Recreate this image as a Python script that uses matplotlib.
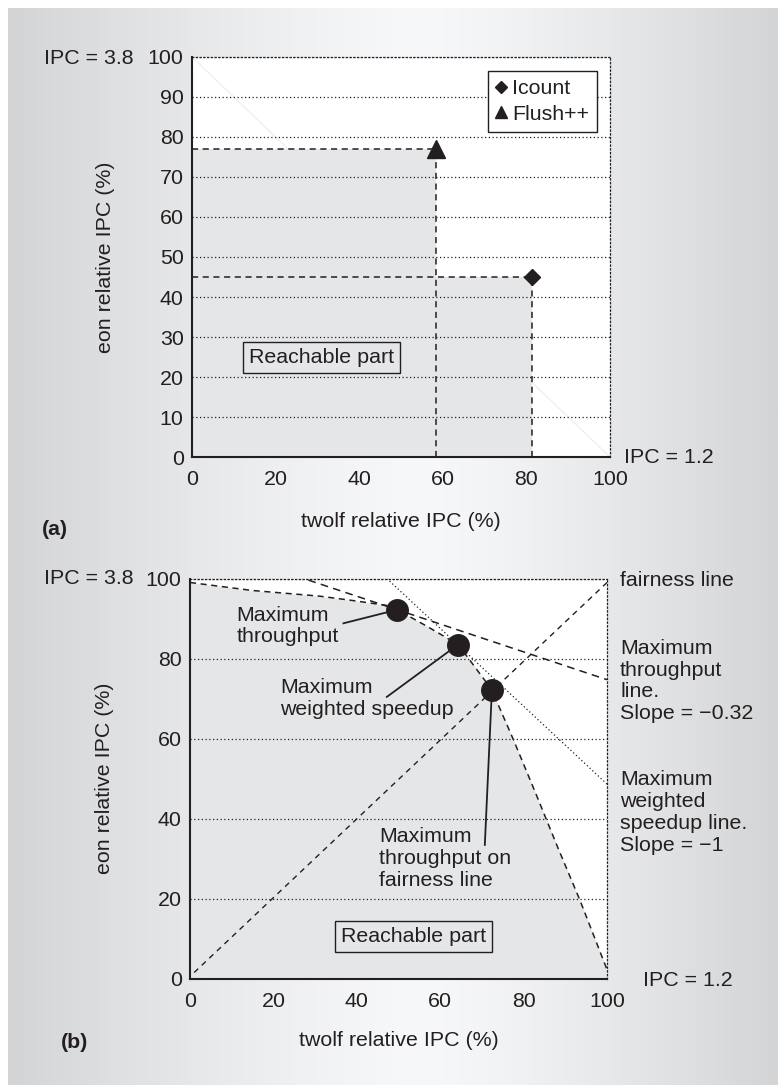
import numpy as np
import matplotlib
matplotlib.use('Agg')
import matplotlib.pyplot as plt
from matplotlib.lines import Line2D

# ---------------- data ----------------
# panel (a): measured operating points (twolf %, eon %)
policies = ['Icount', 'Flush++']
policy_x = [81.4, 58.4]
policy_y = [45.0, 76.9]
policy_markers = ['D', '^']
ticks_a_x = [0, 20, 40, 60, 80, 100]
ticks_a_y = list(range(0, 101, 10))

# panel (b): boundary of the reachable part
curve_x = [0, 15, 31, 39, 47, 49.7, 56.4, 64.3, 72.3, 77.6, 82.9, 88.1, 93.5, 99.9, 100]
curve_y = [99.0, 97.0, 95.6, 94.5, 93.3, 92.2, 88.3, 83.5, 72.3, 59.6, 46.3, 33.0, 19.6, 2.5, 0]
fair_x = [1, 100]
fair_y = [1.5, 99]
tput_line_x = [28.4, 100]
tput_line_y = [99.6, 74.7]
ws_line_x = [47.2, 100]
ws_line_y = [100, 48.6]
dot_x = [49.7, 64.3, 72.4]
dot_y = [92.2, 83.5, 72.2]
dot_labels = ['Maximum\nthroughput', 'Maximum\nweighted speedup',
              'Maximum\nthroughput on\nfairness line']
ticks_b = [0, 20, 40, 60, 80, 100]

INK = '#231f20'
FILL = '#e5e6e8'
FS = 15.4

plt.rcParams['font.family'] = ['Liberation Sans', 'DejaVu Sans']
plt.rcParams['font.size'] = FS
plt.rcParams['text.color'] = INK
plt.rcParams['axes.labelcolor'] = INK
plt.rcParams['xtick.color'] = INK
plt.rcParams['ytick.color'] = INK

W, H = 778, 1089
fig = plt.figure(figsize=(W / 100, H / 100), dpi=100)
fig.patch.set_facecolor('white')


def fx(px):
    return px / W


def fy(py):
    return 1 - py / H


# ---------------- gradient background ----------------
bg = fig.add_axes([fx(8), fy(1085), fx(778) - fx(8), fy(8) - fy(1085)])
xs = np.linspace(0, 1, 600)
xc = (420 - 8) / 770
d = np.abs(xs - xc) / np.where(xs < xc, xc, 1 - xc)
v = 248 - (248 - 212) * d ** 1.3
img = np.tile(v, (4, 1))
rgb = np.stack([img - 1, img, img + 1.5], axis=-1) / 255
bg.imshow(np.clip(rgb, 0, 1), aspect='auto', extent=[0, 1, 0, 1])
bg.axis('off')


def style_axes(ax, xt, yt):
    ax.set_facecolor('white')
    ax.set_xlim(0, 100)
    ax.set_ylim(0, 100)
    ax.set_xticks(xt)
    ax.set_yticks(yt)
    ax.tick_params(length=0, labelsize=FS)
    ax.tick_params(axis='x', pad=9.5)
    ax.tick_params(axis='y', pad=6)
    for s in ['left', 'bottom']:
        ax.spines[s].set_linewidth(1.5)
        ax.spines[s].set_color(INK)
    for s in ['top', 'right']:
        ax.spines[s].set_linestyle((0, (1, 2)))
        ax.spines[s].set_linewidth(0.9)
        ax.spines[s].set_color(INK)
    ax.yaxis.grid(True, linestyle=(0, (1, 2)), linewidth=0.9, color=INK)
    ax.set_axisbelow(False)


# ---------------- panel (a) ----------------
axA = fig.add_axes([fx(192), fy(457), fx(610) - fx(192), fy(57) - fy(457)])
style_axes(axA, ticks_a_x, ticks_a_y)
for gl in axA.yaxis.get_gridlines():
    gl.set_zorder(1.5)

# faint diagonal
axA.plot([0, 100], [100, 0], color='#ececec', lw=0.8, zorder=0.5)

# reachable (dominated) region: union of rectangles below each point
order = np.argsort(policy_x)
sx, sy = [], []
prev = 0
for i in order:
    ymax = max(policy_y[j] for j in order if policy_x[j] >= policy_x[i])
    sx += [prev, policy_x[i]]
    sy += [ymax, ymax]
    prev = policy_x[i]
axA.fill_between(sx, sy, 0, color=FILL, lw=0, zorder=1)

for px_, py_, m in zip(policy_x, policy_y, policy_markers):
    axA.plot([0, px_], [py_, py_], color=INK, lw=1.1, dashes=(4, 3), zorder=2)
    axA.plot([px_, px_], [0, py_], color=INK, lw=1.1, dashes=(4, 3), zorder=2)
    ms = 8.5 if m == 'D' else 13
    axA.plot([px_], [py_], marker=m, ms=ms, color=INK, ls='none', zorder=4)

handles = [Line2D([], [], marker=m, ls='none', color=INK, ms=(6 if m == 'D' else 8))
           for m in policy_markers]
leg = axA.legend(handles, policies, loc='upper right', bbox_to_anchor=(0.969, 0.965),
                 fancybox=False, framealpha=1, edgecolor=INK, fontsize=FS,
                 handlelength=0.45, handletextpad=0.3, borderpad=0.38,
                 labelspacing=0.3, borderaxespad=0)
leg.get_frame().set_linewidth(1.0)
leg.set_zorder(5)

axA.text(31.0, 24.9, 'Reachable part', ha='center', va='center', fontsize=FS, zorder=5,
         bbox=dict(boxstyle='square,pad=0.28', fc=FILL, ec=INK, lw=1.0))

axA.set_ylabel('eon relative IPC (%)', fontsize=FS)
axA.yaxis.set_label_coords((115 - 192) / 418, 0.5)
axA.set_xlabel('twolf relative IPC (%)', fontsize=FS)
axA.xaxis.set_label_coords(0.5, (457 - 521.5) / 400)
axA.xaxis.label.set_va('center')

fig.text(fx(133), fy(58), 'IPC = 3.8', ha='right', va='center', fontsize=FS)
fig.text(fx(624), fy(457), 'IPC = 1.2', ha='left', va='center', fontsize=FS)
fig.text(fx(42), fy(529), '(a)', ha='left', va='center', fontsize=FS, fontweight='bold')

# ---------------- panel (b) ----------------
axB = fig.add_axes([fx(190), fy(978.5), fx(607) - fx(190), fy(578.5) - fy(978.5)])
style_axes(axB, ticks_b, ticks_b)
for gl in axB.yaxis.get_gridlines():
    gl.set_zorder(1.5)

axB.fill_between(curve_x, curve_y, 0, color=FILL, lw=0, zorder=1)
axB.plot(curve_x[:-1], curve_y[:-1], color=INK, lw=1.1, dashes=(4, 3), zorder=2)
axB.plot(fair_x, fair_y, color=INK, lw=1.0, dashes=(4, 3.5), zorder=2)
axB.plot(tput_line_x, tput_line_y, color=INK, lw=1.1, dashes=(5, 3.5), zorder=2)
axB.plot(ws_line_x, ws_line_y, color=INK, lw=0.9, dashes=(1, 2), zorder=2)

leader_start = [(36.8, 88.8), (47.2, 70.4), (70.7, 33.4)]
text_pos = [(11.2, 88.1), (21.6, 70.0), (45.3, 30.0)]
for (lx, ly), dx, dy, (tx, ty), lab in zip(leader_start, dot_x, dot_y, text_pos, dot_labels):
    axB.plot([lx, dx], [ly, dy], color=INK, lw=1.3, zorder=3)
    axB.text(tx, ty, lab, ha='left', va='center', fontsize=FS, linespacing=1.18, zorder=5)
axB.plot(dot_x, dot_y, 'o', ms=15.5, color=INK, ls='none', zorder=4)

axB.text(53.5, 10.5, 'Reachable part', ha='center', va='center', fontsize=FS, zorder=5,
         bbox=dict(boxstyle='square,pad=0.28', fc=FILL, ec=INK, lw=1.0))

axB.set_ylabel('eon relative IPC (%)', fontsize=FS)
axB.yaxis.set_label_coords((114 - 190) / 417, 0.5)
axB.set_xlabel('twolf relative IPC (%)', fontsize=FS)
axB.xaxis.set_label_coords(0.5, (978.5 - 1040.5) / 400)
axB.xaxis.label.set_va('center')

fig.text(fx(134), fy(579), 'IPC = 3.8', ha='right', va='center', fontsize=FS)
fig.text(fx(643), fy(980), 'IPC = 1.2', ha='left', va='center', fontsize=FS)
fig.text(fx(620), fy(580), 'fairness line', ha='left', va='center', fontsize=FS)
fig.text(fx(620), fy(681), 'Maximum\nthroughput\nline.\nSlope = \u22120.32',
         ha='left', va='center', fontsize=FS, linespacing=1.18)
fig.text(fx(620), fy(812.5), 'Maximum\nweighted\nspeedup line.\nSlope = \u22121',
         ha='left', va='center', fontsize=FS, linespacing=1.18)
fig.text(fx(61), fy(1043), '(b)', ha='left', va='center', fontsize=FS, fontweight='bold')

fig.savefig('out.png', dpi=100, facecolor='white')
